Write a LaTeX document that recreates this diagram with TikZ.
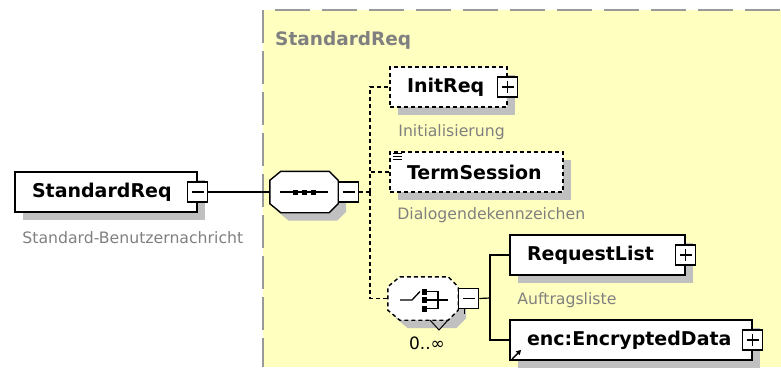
\documentclass[tikz,border=0pt]{standalone}
\usepackage{fontspec}
\setmainfont{DejaVu Sans}
\usetikzlibrary{positioning,calc,arrows.meta,shadows}
\definecolor{bgyellow}{HTML}{FFFFC0}
\definecolor{framegray}{HTML}{999999}
\definecolor{notegray}{HTML}{808080}
\definecolor{shadegray}{HTML}{C0C0C0}
\newcommand\elemfont{\fontsize{19}{22}\selectfont\bfseries}
\newcommand\notefont{\fontsize{15.7}{18}\selectfont}

\begin{document}
\begin{tikzpicture}[
  x=1pt, y=-1pt, >=Stealth,
  shd/.style={general shadow={fill=shadegray, shadow xshift=8pt, shadow yshift=-8pt}},
  elem/.style={draw, line width=1.6pt, fill=white, minimum height=40pt, inner xsep=17pt,
               inner ysep=0pt, align=left, font=\elemfont, shd},
  optelem/.style={elem, dash pattern=on 4pt off 3pt},
  compbox/.style={minimum width=68pt, minimum height=41pt, inner sep=0pt},
  comp/.style={draw, line width=1.4pt, fill=white, shd},
  tgl/.style={draw, fill=white, line width=1.2pt, minimum size=20pt, inner sep=0pt},
  minus/.style={tgl, path picture={
      \draw[line width=1.2pt] ([xshift=4pt]path picture bounding box.west)
        -- ([xshift=-4pt]path picture bounding box.east);}},
  plus/.style={tgl, path picture={
      \draw[line width=1.2pt] ([xshift=4pt]path picture bounding box.west)
        -- ([xshift=-4pt]path picture bounding box.east);
      \draw[line width=1.2pt] ([yshift=-4pt]path picture bounding box.north)
        -- ([yshift=4pt]path picture bounding box.south);}},
  note/.style={font=\notefont, text=notegray, inner sep=0pt},
  grptitle/.style={font=\fontsize{18.5}{22}\selectfont\bfseries, text=notegray, inner sep=0pt},
  frame/.style={framegray, line width=2pt},
  con/.style={line width=1.2pt},
  dcon/.style={con, dash pattern=on 4pt off 3pt},
]
  \useasboundingbox (0,0) rectangle (781,367);

  %=================== group background ===================
  \fill[bgyellow] (263,10) rectangle (781,367);
  \draw[frame, dash pattern=on 33pt off 8pt] (263,10) -- (263,367);
  \draw[frame, dash pattern=on 35pt off 12pt, dash phase=35pt] (263,10) -- (781,10);
  \node[grptitle, anchor=base west] (grp) at (275,45) {StandardReq};

  %=================== root element ===================
  \node[elem, text width=148pt] (stdreq) at (106,192) {StandardReq};
  \node[minus] (stdreqm) at (stdreq.east) {};
  \node[note, anchor=base west] (stdreqnote) at ($(stdreq.south west)+(8,31)$) {Standard-Benutzernachricht};

  %=================== sequence ===================
  \node[compbox] (seq) at (304,192) {};
  \draw[comp] ([xshift=11pt]seq.north west) -- ([xshift=-9pt]seq.north east)
    -- ([yshift=-9pt]seq.north east) -- ([yshift=9pt]seq.south east)
    -- ([xshift=-9pt]seq.south east) -- ([xshift=11pt]seq.south west)
    -- ([yshift=9pt]seq.south west) -- ([yshift=-9pt]seq.north west) -- cycle;
  \node[minus, right=0pt of seq] (seqm) {};
  \draw[line width=1.3pt] ($(seq.center)+(-24,0)$) -- ($(seq.center)+(24,0)$);
  \foreach \dx in {-9,0,9}
    \fill ($(seq.center)+(\dx-2.5,-2.5)$) rectangle ++(5,5);
  \draw[con] (stdreqm.east) -- (seq.west);

  %=================== optional children ===================
  \node[optelem, text width=83pt] (initreq) at (448.5,87) {InitReq};
  \node[plus] (initreqp) at (initreq.east) {};
  \node[note, anchor=base west] (initnote) at ($(initreq.south west)+(9,29)$) {Initialisierung};

  \node[optelem, text width=139pt] (termsess) at (476.5,172) {TermSession};
  \foreach \dy in {2,5,8}
    \draw[line width=0.9pt] ($(termsess.north west)+(4,\dy)$) -- ++(9,0);
  \node[note, anchor=base west] (termnote) at ($(termsess.south west)+(8,27)$) {Dialogendekennzeichen};

  %=================== choice ===================
  \node[compbox, minimum width=70pt, minimum height=43pt] (chc) at (423,298.5) {};
  \draw[comp, dash pattern=on 4pt off 3pt] ([xshift=12pt]chc.north west) -- ([xshift=-10pt]chc.north east)
    -- ([yshift=-10pt]chc.north east) -- ([yshift=10pt]chc.south east)
    -- ([xshift=-10pt]chc.south east) -- ([xshift=12pt]chc.south west)
    -- ([yshift=10pt]chc.south west) -- ([yshift=-10pt]chc.north west) -- cycle;
  \node[minus, right=0pt of chc] (chcm) {};
  \draw[line width=1.2pt] ([xshift=-4pt]chcm.south) -- ++(0,5);
  \begin{scope}[shift={(chc.center)}, line width=1.3pt]
    \draw (-23,1.5) -- (-11,1.5) -- (-3,-7);
    \foreach \dy in {-7,1.5,10}
      \fill (-1,\dy-3) rectangle ++(5,6);
    \draw (4,-7) -| (15,10) -- (4,10);
    \draw (4,1.5) -- (25,1.5);
    \draw[line width=1pt] (7,21.5) -- (16,31.5) -- (25,21.5);
  \end{scope}
  \node[note, text=black, font=\fontsize{17}{20}\selectfont] (occurs) at (427,343) {0..∞};

  \coordinate (fork1) at (370,192);
  \draw[dcon] (seqm.east) -- (fork1);
  \draw[dcon] (fork1) |- (initreq.west);
  \draw[dcon] (fork1) |- (termsess.west);
  \draw[dcon] (fork1) |- (chc.west);

  %=================== choice members ===================
  \node[elem, text width=141pt] (reqlist) at (597.5,255) {RequestList};
  \node[plus] (reqlistp) at (reqlist.east) {};
  \node[note, anchor=base west] (reqnote) at ($(reqlist.south west)+(8,29)$) {Auftragsliste};

  \node[elem, text width=208pt] (encdata) at (631,340) {enc:EncryptedData};
  \node[plus] (encdatap) at (encdata.east) {};
  \draw[line width=1.4pt, -{Triangle[length=5pt, width=5pt]}]
    ($(encdata.south west)+(3,-2)$) -- ++(9,-9);

  \coordinate (fork2) at (490,298);
  \draw[con] (chcm.east) -- (fork2);
  \draw[con] (fork2) |- (reqlist.west);
  \draw[con] (fork2) |- (encdata.west);
\end{tikzpicture}
\end{document}
